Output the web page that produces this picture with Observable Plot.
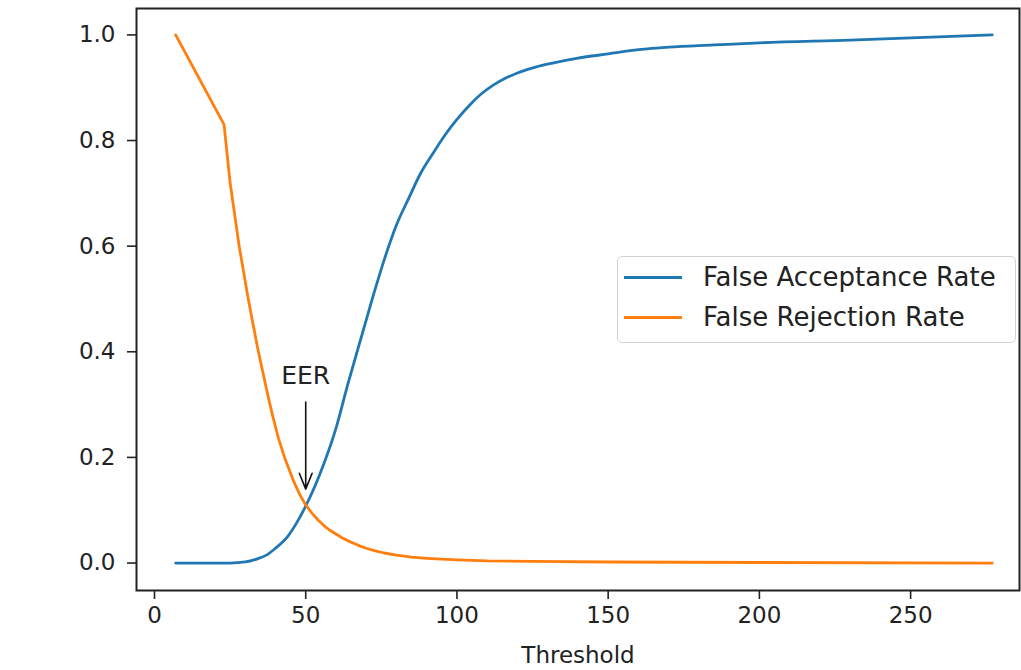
<!DOCTYPE html>
<html><head><meta charset="utf-8">
<script src="https://cdn.jsdelivr.net/npm/d3@7"></script>
<script src="https://cdn.jsdelivr.net/npm/@observablehq/plot@0.6"></script>
<style>
body{margin:0;background:#fff;font-family:"DejaVu Sans",sans-serif;}
#wrap{position:relative;width:1021px;height:670px;}
#legend{position:absolute;left:617px;top:256px;width:399px;height:87px;border:1px solid #d3d3d3;border-radius:5px;background:rgba(255,255,255,0.8);box-sizing:border-box;}
.row{position:absolute;left:0;height:30px;display:flex;align-items:center;white-space:nowrap;}
.sw{width:58px;height:3px;margin-left:6px;margin-right:21px;}
.lab{font-size:26px;color:#222;font-family:"DejaVu Sans",sans-serif;}
</style></head><body><div id="wrap"></div>
<script>
// FAR (blue) series
const farThreshold = [7, 25, 30, 34, 37, 40, 44, 47, 50, 53, 56, 60, 64, 68, 72, 76, 80, 84, 88, 92, 96, 100, 104, 108, 112, 116, 120, 126, 132, 140, 150, 160, 170, 185, 200, 230, 277];
const farValues    = [0, 0, 0.002, 0.008, 0.015, 0.028, 0.05, 0.076, 0.108, 0.145, 0.188, 0.255, 0.34, 0.42, 0.50, 0.575, 0.64, 0.69, 0.738, 0.775, 0.81, 0.84, 0.866, 0.888, 0.905, 0.918, 0.928, 0.939, 0.947, 0.956, 0.964, 0.972, 0.977, 0.981, 0.985, 0.99, 1.0];
// FRR (orange) series
const frrThreshold = [7, 23, 25, 28, 31, 34, 37, 39, 41, 43, 46, 48, 50, 52, 54, 56, 58, 60, 62, 64, 66, 68, 70, 73, 76, 80, 85, 90, 95, 100, 110, 125, 150, 200, 277];
const frrValues    = [1.0, 0.83, 0.72, 0.60, 0.50, 0.41, 0.33, 0.28, 0.236, 0.20, 0.155, 0.13, 0.11, 0.095, 0.082, 0.071, 0.062, 0.055, 0.048, 0.042, 0.037, 0.032, 0.028, 0.023, 0.019, 0.015, 0.011, 0.009, 0.0075, 0.006, 0.004, 0.003, 0.002, 0.001, 0.0];
const seriesNames  = ["False Acceptance Rate", "False Rejection Rate"];
const seriesColors = ["#1f77b4", "#ff7f0e"];
const xTicks = [0, 50, 100, 150, 200, 250];
const yTicks = [0, 0.2, 0.4, 0.6, 0.8, 1.0];
const xLabel = "Threshold";
const eerLabel = "EER";
const eerX = 50, eerTextY = 0.355, eerArrowFromY = 0.305, eerArrowToY = 0.14;

const farData = farThreshold.map((t, i) => ({t, v: farValues[i], s: seriesNames[0]}));
const frrData = frrThreshold.map((t, i) => ({t, v: frrValues[i], s: seriesNames[1]}));
const eer = [{x: eerX, yText: eerTextY, y1: eerArrowFromY, y2: eerArrowToY, label: eerLabel}];

const chart = Plot.plot({
  width: 1021, height: 670,
  marginLeft: 136, marginRight: 2, marginTop: 8, marginBottom: 80,
  style: {fontFamily: "DejaVu Sans, sans-serif", background: "transparent", color: "#222"},
  x: {domain: [-5.95, 286], ticks: xTicks},
  y: {domain: [-0.052, 1.05], ticks: yTicks},
  marks: [
    Plot.axisX({ticks: xTicks, tickSize: 9, tickPadding: 7, fontSize: 23, label: xLabel, labelAnchor: "center", labelArrow: "none", labelOffset: 72, stroke: "#222", strokeWidth: 1.6}),
    Plot.axisY({ticks: yTicks, tickSize: 9, tickPadding: 12, fontSize: 23, tickFormat: d3.format(".1f"), label: null, stroke: "#222", strokeWidth: 1.6}),
    Plot.line(farData, {x: "t", y: "v", stroke: seriesColors[0], strokeWidth: 2.8, curve: "monotone-x"}),
    Plot.line(frrData, {x: "t", y: "v", stroke: seriesColors[1], strokeWidth: 2.8, curve: "linear", strokeLinejoin: "round"}),
    Plot.arrow(eer, {x1: "x", y1: "y1", x2: "x", y2: "y2", stroke: "#111", strokeWidth: 1.6, headLength: 16, headAngle: 44}),
    Plot.text(eer, {x: "x", y: "yText", text: "label", fontSize: 25, fill: "#222"}),
    Plot.frame({stroke: "#222", strokeWidth: 2})
  ]
});
const wrap = document.getElementById("wrap");
chart.style.position = "absolute"; chart.style.left = "0"; chart.style.top = "0";
wrap.appendChild(chart);
const leg = document.createElement("div");
leg.id = "legend";
seriesNames.forEach((n, i) => {
  const r = document.createElement("div");
  r.className = "row";
  r.style.top = (5 + i * 40) + "px";
  const sw = document.createElement("div"); sw.className = "sw"; sw.style.background = seriesColors[i];
  const lb = document.createElement("span"); lb.className = "lab"; lb.textContent = n;
  r.appendChild(sw); r.appendChild(lb); leg.appendChild(r);
});
wrap.appendChild(leg);
</script></body></html>
